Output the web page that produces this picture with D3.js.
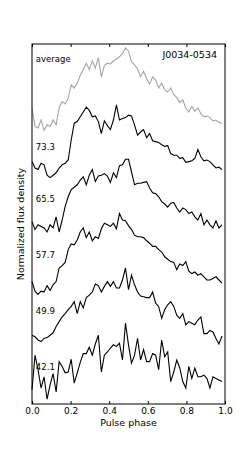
<!DOCTYPE html>
<html>
<head>
<meta charset="utf-8">
<script src="https://cdn.jsdelivr.net/npm/d3@7"></script>
<style>
    body { margin: 0; background: #fff; }
    text { font-family: "DejaVu Sans", sans-serif; }
</style>
</head>
<body>
<div id="profile-viz"></div>
<script>
// labels of the profiles, top to bottom
let profileLabels = ['average', '73.3', '65.5', '57.7', '49.9', '42.1']

// vertical offset of each profile in normalized flux units
let profileOffsets = [3.4, 2.75, 2.1, 1.4, 0.7, 0]

// x axis tick values
let phaseTicks = [0.0, 0.2, 0.4, 0.6, 0.8, 1.0]

let pulsarName = 'J0034-0534'

// normalized flux of each profile, 64 phase bins
let fluxAverage = [0.25, 0.02, 0.00, 0.10, -0.03, 0.04, 0.02, 0.10, 0.04, 0.25, 0.33, 0.30, 0.37, 0.54, 0.50, 0.56,
    0.66, 0.73, 0.81, 0.73, 0.84, 0.75, 0.88, 0.64, 0.78, 0.81, 0.80, 0.84, 0.86, 0.89, 0.93, 1.00,
    0.96, 0.83, 0.79, 0.74, 0.64, 0.71, 0.62, 0.55, 0.64, 0.60, 0.50, 0.56, 0.48, 0.45, 0.50, 0.42,
    0.38, 0.32, 0.35, 0.25, 0.20, 0.27, 0.21, 0.25, 0.18, 0.14, 0.15, 0.13, 0.09, 0.10, 0.07, 0.06]

let flux733 = [0.23, 0.15, 0.13, 0.21, 0.19, 0.06, 0.03, 0.06, 0.09, 0.15, 0.19, 0.21, 0.25, 0.50, 0.71, 0.73,
    0.79, 0.85, 0.91, 0.87, 0.79, 0.80, 0.73, 0.58, 0.74, 0.68, 0.63, 0.75, 0.94, 0.75, 0.77, 0.78,
    0.81, 0.80, 0.69, 0.56, 0.60, 0.63, 0.53, 0.58, 0.49, 0.48, 0.47, 0.44, 0.42, 0.43, 0.33, 0.31,
    0.31, 0.27, 0.28, 0.22, 0.23, 0.24, 0.27, 0.38, 0.29, 0.24, 0.25, 0.23, 0.19, 0.15, 0.16, 0.13]

let flux655 = [0.13, 0.03, 0.09, 0.07, 0.05, 0.00, 0.09, 0.05, 0.19, 0.00, 0.15, 0.32, 0.44, 0.53, 0.56, 0.59,
    0.65, 0.69, 0.59, 0.71, 0.78, 0.63, 0.70, 0.71, 0.73, 0.70, 0.62, 0.74, 0.68, 0.83, 0.84, 0.91,
    0.91, 0.75, 0.59, 0.61, 0.61, 0.62, 0.63, 0.55, 0.49, 0.48, 0.44, 0.38, 0.35, 0.31, 0.36, 0.37,
    0.30, 0.25, 0.30, 0.28, 0.23, 0.25, 0.19, 0.15, 0.23, 0.09, 0.15, 0.09, 0.05, 0.14, 0.05, 0.09]

let flux577 = [0.08, -0.04, -0.08, -0.04, -0.05, 0.03, -0.03, 0.04, 0.08, 0.25, 0.28, 0.32, 0.48, 0.55, 0.54, 0.60,
    0.70, 0.75, 0.63, 0.70, 0.59, 0.64, 0.62, 0.74, 0.81, 0.79, 0.77, 0.81, 0.74, 0.93, 0.85, 0.84,
    0.78, 0.73, 0.66, 0.64, 0.64, 0.63, 0.59, 0.56, 0.52, 0.52, 0.48, 0.45, 0.39, 0.36, 0.33, 0.32,
    0.23, 0.30, 0.28, 0.33, 0.21, 0.18, 0.20, 0.16, 0.18, 0.14, 0.10, 0.10, 0.12, 0.14, 0.10, 0.06]

let flux499 = [0.11, 0.09, 0.05, 0.03, 0.07, 0.08, 0.11, 0.14, 0.22, 0.28, 0.34, 0.38, 0.43, 0.47, 0.53, 0.38,
    0.53, 0.45, 0.58, 0.61, 0.65, 0.75, 0.73, 0.65, 0.72, 0.78, 0.72, 0.78, 0.70, 0.70, 0.80, 0.95,
    0.68, 0.86, 0.74, 0.65, 0.60, 0.59, 0.58, 0.58, 0.65, 0.51, 0.47, 0.32, 0.43, 0.49, 0.53, 0.47,
    0.36, 0.32, 0.38, 0.24, 0.28, 0.26, 0.24, 0.30, 0.34, 0.13, 0.13, 0.17, 0.15, 0.07, 0.00, 0.10]

let flux421 = [0.13, 0.56, 0.38, 0.15, 0.29, 0.01, 0.19, 0.33, 0.10, 0.48, 0.42, 0.34, 0.35, 0.51, 0.21, 0.34,
    0.47, 0.58, 0.58, 0.66, 0.56, 0.70, 0.81, 0.35, 0.56, 0.60, 0.65, 0.69, 0.67, 0.71, 0.50, 0.96,
    0.69, 0.46, 0.56, 0.77, 0.50, 0.63, 0.48, 0.48, 0.58, 0.56, 0.38, 0.75, 0.54, 0.60, 0.23, 0.35,
    0.50, 0.40, 0.23, 0.15, 0.42, 0.27, 0.40, 0.29, 0.29, 0.31, 0.27, 0.15, 0.29, 0.27, 0.25, 0.23]

let profiles = [fluxAverage, flux733, flux655, flux577, flux499, flux421]
let profileColors = ['#a6a6a6', '#000', '#000', '#000', '#000', '#000']

// set the dimensions and margins of the graph
let margin = {top: 44, right: 25, bottom: 46, left: 32},
    width = 250 - margin.left - margin.right,
    height = 450 - margin.top - margin.bottom;

let svg = d3.select("#profile-viz")
    .append("svg")
    .attr("width", width + margin.left + margin.right)
    .attr("height", height + margin.top + margin.bottom)
    .append("g")
    .attr("transform", "translate(" + margin.left + "," + margin.top + ")");

// x: pulse phase, y: normalized flux plus offset
let x = d3.scaleLinear()
    .domain([0, 1])
    .range([0, width])

let y = d3.scaleLinear()
    .domain([-0.05, 4.45])
    .range([height, 0])

// line generator, phase of bin i is i / nbins
let line = d3.line()
    .x(function(d, i, arr) {return x(i / arr.length)})
    .y(function(d) {return y(d.v)})

// draw each profile
profiles.forEach(function(p, k) {
    let pts = p.map(function(v) {return {v: v + profileOffsets[k]}})
    svg.append("path")
        .datum(pts)
        .attr("d", line)
        .attr("fill", "none")
        .attr("stroke", profileColors[k])
        .attr("stroke-width", 1.1)
        .attr("stroke-linejoin", "miter")
})

// profile labels
profileLabels.forEach(function(lab, k) {
    let ly = k == 0 ? 18 : y(profileOffsets[k] + 0.38)
    svg.append("text")
        .attr("x", x(0.02))
        .attr("y", ly)
        .style("font-size", "8.5px")
        .text(lab)
})

// pulsar name in the top right corner
svg.append("text")
    .attr("x", width - 8)
    .attr("y", 14)
    .style("text-anchor", "end")
    .style("font-size", "9.5px")
    .text(pulsarName)

// bottom axis with ticks pointing inward
let xAxis = svg.append("g")
    .attr("transform", "translate(0," + height + ")")
    .call(d3.axisBottom(x)
        .tickValues(phaseTicks)
        .tickFormat(d3.format(".1f"))
        .tickSizeInner(-3)
        .tickSizeOuter(0)
        .tickPadding(4))
xAxis.select(".domain").remove()
xAxis.selectAll("text")
    .style("font-family", "DejaVu Sans, sans-serif")
    .style("font-size", "9px")
    .attr("fill", "#000")

// top ticks pointing inward
let topAxis = svg.append("g")
    .call(d3.axisTop(x)
        .tickValues(phaseTicks)
        .tickSizeInner(-3)
        .tickSizeOuter(0)
        .tickFormat(""))
topAxis.select(".domain").remove()

// frame round the plot
svg.append("rect")
    .attr("x", 0)
    .attr("y", 0)
    .attr("width", width)
    .attr("height", height)
    .attr("fill", "none")
    .attr("stroke", "#000")
    .attr("stroke-width", 1)

// axis labels
svg.append("text")
    .attr("x", width / 2)
    .attr("y", height + 22)
    .style("text-anchor", "middle")
    .style("font-size", "9.5px")
    .text("Pulse phase")

svg.append("text")
    .attr("transform", "rotate(-90)")
    .attr("x", -height / 2)
    .attr("y", -8)
    .style("text-anchor", "middle")
    .style("font-size", "9.5px")
    .text("Normalized flux density")
</script>
</body>
</html>
